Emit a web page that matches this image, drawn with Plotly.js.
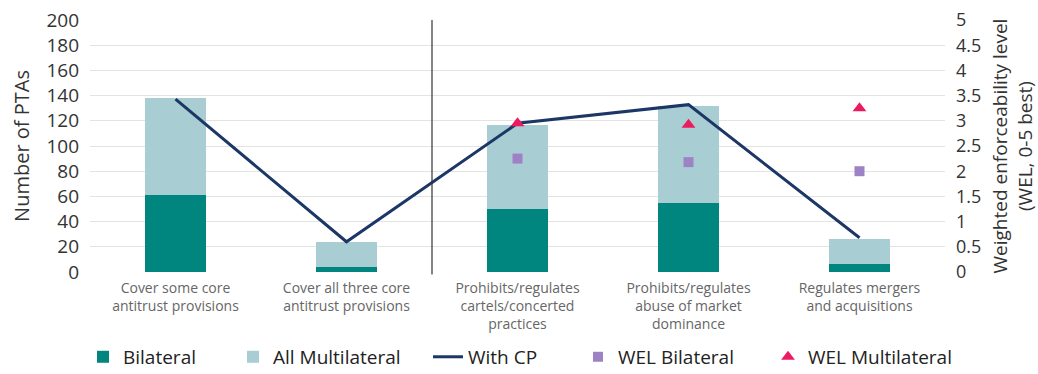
<!DOCTYPE html>
<html>
<head>
<meta charset="utf-8">
<script src="https://cdn.plot.ly/plotly-3.0.1.min.js"></script>
<style>html,body{margin:0;padding:0;background:#fff;}#chart{width:1038px;height:374px;}</style>
</head>
<body>
<div id="chart"></div>
<script>
const categories = [
  "Cover some core<br>antitrust provisions",
  "Cover all three core<br>antitrust provisions",
  "Prohibits/regulates<br>cartels/concerted<br>practices",
  "Prohibits/regulates<br>abuse of market<br>dominance",
  "Regulates mergers<br>and acquisitions"
];
const bilateral = [61, 4, 50, 55, 6];
const allMultilateral = [77, 20, 67, 77, 20];
const withCP = [3.43, 0.6, 2.95, 3.32, 0.68];
const welBilateral = [null, null, 2.25, 2.18, 2.0];
const welMultilateral = [null, null, 2.95, 2.92, 3.25];
const leftTicks = [0,20,40,60,80,100,120,140,160,180,200];
const rightTicks = [0,0.5,1,1.5,2,2.5,3,3.5,4,4.5,5];

const FONT = '"Open Sans", sans-serif';
const xIdx = categories.map((c,i)=>i);

const traces = [
  {type:'bar', name:'Bilateral', x:xIdx, y:bilateral, marker:{color:'#00867E'}, width:0.36, legend:'legend'},
  {type:'bar', name:'All Multilateral', x:xIdx, y:allMultilateral, marker:{color:'#A8CDD2'}, width:0.36, legend:'legend2'},
  {type:'scatter', mode:'lines', name:'With CP', x:xIdx, y:withCP, yaxis:'y2', line:{color:'#1C3666', width:3}, legend:'legend3'},
  {type:'scatter', mode:'markers', name:'WEL Bilateral', x:xIdx, y:welBilateral, yaxis:'y2', marker:{symbol:'square', color:'#9E82C6', size:10}, legend:'legend4'},
  {type:'scatter', mode:'markers', name:'WEL Multilateral', x:xIdx, y:welMultilateral, yaxis:'y2', marker:{symbol:'triangle-up', color:'#EC1A5E', size:12}, legend:'legend5'}
];

const L = 90, W = 855;
function legendAt(px){
  return {orientation:'h', x:(px - L)/W, xanchor:'left', y:-0.337, yanchor:'middle',
          font:{size:19, color:'#222'}, bgcolor:'rgba(0,0,0,0)'};
}

const layout = {
  width:1038, height:374,
  margin:{l:90, r:93, t:20, b:102, autoexpand:false},
  barmode:'stack',
  paper_bgcolor:'#fff', plot_bgcolor:'#fff',
  font:{family:FONT, color:'#333', size:17},
  showlegend:true,
  legend:legendAt(83),
  legend2:legendAt(233),
  legend3:legendAt(428),
  legend4:legendAt(578),
  legend5:legendAt(768),
  xaxis:{range:[-0.5,4.5], tickvals:xIdx, ticktext:categories, tickfont:{size:14, color:'#666'}, showgrid:false, zeroline:false, showline:false, ticks:'',
         ticklabelstandoff:6},
  yaxis:{range:[0,200], tickvals:leftTicks, showgrid:true, gridcolor:'#e3e3e3', gridwidth:1, zeroline:false, tickfont:{size:19, color:'#333'},
         ticklabelstandoff:10, automargin:false,
         title:{text:'Number of PTAs', font:{size:20, color:'#333'}, standoff:11}},
  yaxis2:{range:[0,5], tickvals:rightTicks, overlaying:'y', side:'right', showgrid:false, zeroline:false, tickfont:{size:18, color:'#333'},
          ticklabelstandoff:10, automargin:false,
          title:{text:'Weighted enforceability level<br>(WEL, 0-5 best)', font:{size:19, color:'#333'}, standoff:15}},
  shapes:[{type:'line', xref:'x', yref:'paper', x0:1.5, x1:1.5, y0:-0.01, y1:1.0, line:{color:'#333', width:1.2}}]
};

Plotly.newPlot('chart', traces, layout, {displayModeBar:false, staticPlot:true});
</script>
</body>
</html>
